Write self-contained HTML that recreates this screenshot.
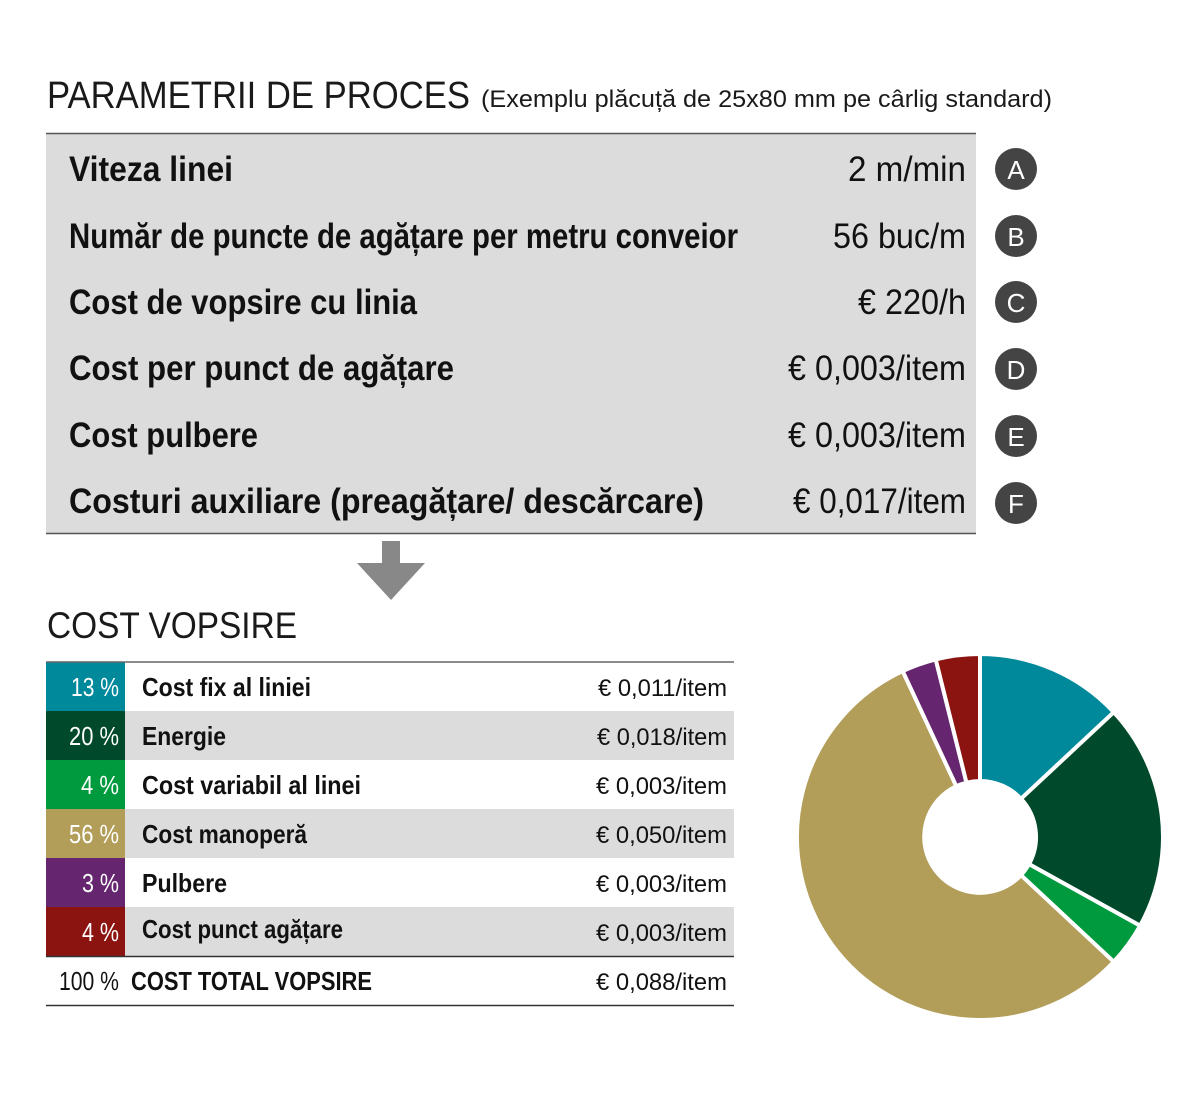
<!DOCTYPE html>
<html><head><meta charset="utf-8"><style>
html,body{margin:0;padding:0;background:#fff;}
svg{display:block;}
</style></head><body>
<svg width="1200" height="1095" viewBox="0 0 1200 1095" xmlns="http://www.w3.org/2000/svg" font-family="Liberation Sans, sans-serif">
<text x="47" y="108" font-size="38" fill="#1a1a1a" textLength="423" lengthAdjust="spacingAndGlyphs">PARAMETRII DE PROCES</text>
<text x="481" y="107" font-size="24" fill="#1a1a1a" textLength="571" lengthAdjust="spacingAndGlyphs">(Exemplu plăcuță de 25x80 mm pe cârlig standard)</text>
<rect x="46" y="133" width="930" height="400" fill="#dcdcdc"/>
<line x1="46" y1="133.5" x2="976" y2="133.5" stroke="#555" stroke-width="1.5"/>
<line x1="46" y1="533.5" x2="976" y2="533.5" stroke="#555" stroke-width="1.5"/>
<g font-size="35" fill="#111">
<g font-weight="bold">
<text x="69" y="181" textLength="164" lengthAdjust="spacingAndGlyphs">Viteza linei</text>
<text x="69" y="248" textLength="669" lengthAdjust="spacingAndGlyphs">Număr de puncte de agățare per metru conveior</text>
<text x="69" y="314" textLength="348" lengthAdjust="spacingAndGlyphs">Cost de vopsire cu linia</text>
<text x="69" y="380" textLength="385" lengthAdjust="spacingAndGlyphs">Cost per punct de agățare</text>
<text x="69" y="447" textLength="189" lengthAdjust="spacingAndGlyphs">Cost pulbere</text>
<text x="69" y="513" textLength="635" lengthAdjust="spacingAndGlyphs">Costuri auxiliare (preagățare/ descărcare)</text>
</g>
<text x="848" y="181" textLength="118" lengthAdjust="spacingAndGlyphs">2 m/min</text>
<text x="833" y="248" textLength="133" lengthAdjust="spacingAndGlyphs">56 buc/m</text>
<text x="858" y="314" textLength="108" lengthAdjust="spacingAndGlyphs">€ 220/h</text>
<text x="788" y="380" textLength="178" lengthAdjust="spacingAndGlyphs">€ 0,003/item</text>
<text x="788" y="447" textLength="178" lengthAdjust="spacingAndGlyphs">€ 0,003/item</text>
<text x="793" y="513" textLength="173" lengthAdjust="spacingAndGlyphs">€ 0,017/item</text>
</g>
<g fill="#444">
<circle cx="1016" cy="169" r="21"/><circle cx="1016" cy="236" r="21"/><circle cx="1016" cy="302" r="21"/>
<circle cx="1016" cy="369" r="21"/><circle cx="1016" cy="436" r="21"/><circle cx="1016" cy="503" r="21"/>
</g>
<g fill="#fff" font-size="26" text-anchor="middle">
<text x="1016" y="179">A</text><text x="1016" y="246">B</text><text x="1016" y="312">C</text>
<text x="1016" y="379">D</text><text x="1016" y="446">E</text><text x="1016" y="513">F</text>
</g>
<polygon points="382,541 400,541 400,563 425,563 391,600 357,563 382,563" fill="#888"/>
<text x="47" y="638" font-size="37" fill="#1a1a1a" textLength="250" lengthAdjust="spacingAndGlyphs">COST VOPSIRE</text>
<rect x="46" y="711" width="688" height="49" fill="#dcdcdc"/>
<rect x="46" y="809" width="688" height="49" fill="#dcdcdc"/>
<rect x="46" y="907" width="688" height="49" fill="#dcdcdc"/>
<rect x="46" y="662" width="79" height="49" fill="#00889b"/>
<rect x="46" y="711" width="79" height="49" fill="#00492a"/>
<rect x="46" y="760" width="79" height="49" fill="#009a3e"/>
<rect x="46" y="809" width="79" height="49" fill="#b29e59"/>
<rect x="46" y="858" width="79" height="49" fill="#65256f"/>
<rect x="46" y="907" width="79" height="49" fill="#8b1410"/>
<line x1="46" y1="662" x2="734" y2="662" stroke="#666" stroke-width="1.5"/>
<line x1="46" y1="956.5" x2="734" y2="956.5" stroke="#333" stroke-width="1.5"/>
<line x1="46" y1="1005.5" x2="734" y2="1005.5" stroke="#333" stroke-width="1.5"/>
<g font-size="26">
<g fill="#fff">
<text x="71" y="696" textLength="48" lengthAdjust="spacingAndGlyphs">13 %</text>
<text x="69" y="745" textLength="50" lengthAdjust="spacingAndGlyphs">20 %</text>
<text x="81" y="794" textLength="38" lengthAdjust="spacingAndGlyphs">4 %</text>
<text x="69" y="843" textLength="50" lengthAdjust="spacingAndGlyphs">56 %</text>
<text x="82" y="892" textLength="37" lengthAdjust="spacingAndGlyphs">3 %</text>
<text x="82" y="941" textLength="37" lengthAdjust="spacingAndGlyphs">4 %</text>
</g>
<text x="59" y="990" fill="#111" textLength="60" lengthAdjust="spacingAndGlyphs">100 %</text>
<g fill="#111" font-weight="bold">
<text x="142" y="696" textLength="169" lengthAdjust="spacingAndGlyphs">Cost fix al liniei</text>
<text x="142" y="745" textLength="84" lengthAdjust="spacingAndGlyphs">Energie</text>
<text x="142" y="794" textLength="219" lengthAdjust="spacingAndGlyphs">Cost variabil al linei</text>
<text x="142" y="843" textLength="165" lengthAdjust="spacingAndGlyphs">Cost manoperă</text>
<text x="142" y="892" textLength="85" lengthAdjust="spacingAndGlyphs">Pulbere</text>
<text x="142" y="938" textLength="201" lengthAdjust="spacingAndGlyphs">Cost punct agățare</text>
<text x="131" y="990" textLength="241" lengthAdjust="spacingAndGlyphs">COST TOTAL VOPSIRE</text>
</g>
<g fill="#111" font-size="24">
<text x="598" y="696" textLength="129" lengthAdjust="spacingAndGlyphs">€ 0,011/item</text>
<text x="597" y="745" textLength="130" lengthAdjust="spacingAndGlyphs">€ 0,018/item</text>
<text x="596" y="794" textLength="131" lengthAdjust="spacingAndGlyphs">€ 0,003/item</text>
<text x="596" y="843" textLength="131" lengthAdjust="spacingAndGlyphs">€ 0,050/item</text>
<text x="596" y="892" textLength="131" lengthAdjust="spacingAndGlyphs">€ 0,003/item</text>
<text x="596" y="941" textLength="131" lengthAdjust="spacingAndGlyphs">€ 0,003/item</text>
<text x="596" y="990" textLength="131" lengthAdjust="spacingAndGlyphs">€ 0,088/item</text>
</g>
</g>
<g stroke="#fff" stroke-width="4" stroke-linejoin="miter">
<path d="M980,654 A183,183 0 0 1 1113.8,712.2 L1021,798.8 A56,56 0 0 0 980,781 Z" fill="#00889b"/>
<path d="M1113.8,712.2 A183,183 0 0 1 1140.1,925.7 L1029,864.1 A56,56 0 0 0 1021,798.8 Z" fill="#00492a"/>
<path d="M1140.1,925.7 A183,183 0 0 1 1113.8,961.8 L1021,875.2 A56,56 0 0 0 1029,864.1 Z" fill="#009a3e"/>
<path d="M1113.8,961.8 A183,183 0 1 1 902.7,671.1 L956.3,786.2 A56,56 0 1 0 1021,875.2 Z" fill="#b29e59"/>
<path d="M902.7,671.1 A183,183 0 0 1 935.7,659.4 L966.5,782.7 A56,56 0 0 0 956.3,786.2 Z" fill="#65256f"/>
<path d="M935.7,659.4 A183,183 0 0 1 980,654 L980,781 A56,56 0 0 0 966.5,782.7 Z" fill="#8b1410"/>
</g>
</svg>
</body></html>
